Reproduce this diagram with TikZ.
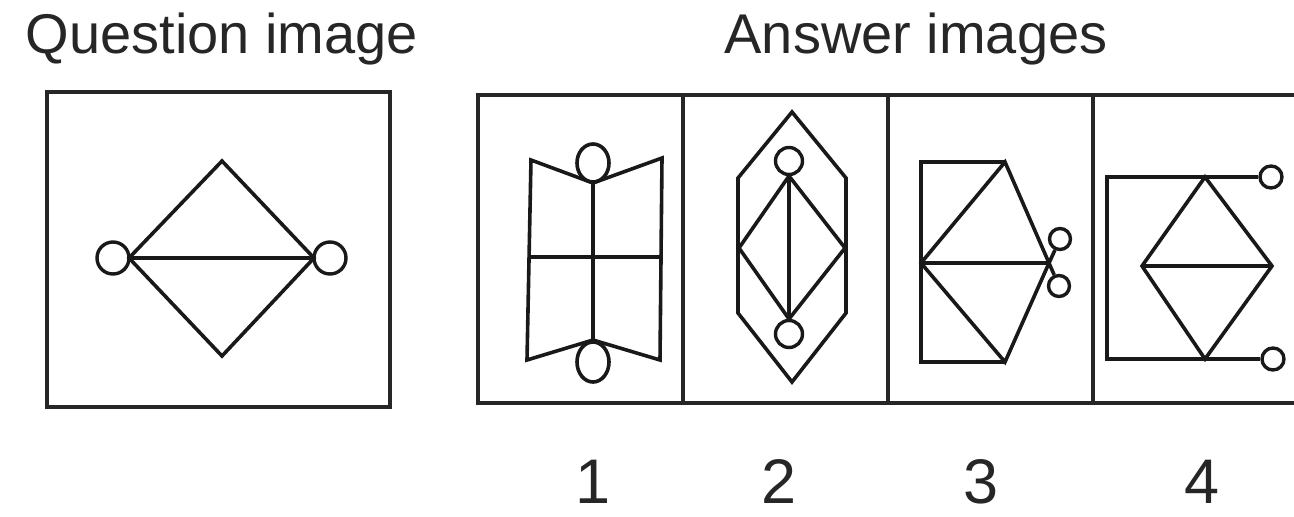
\documentclass[tikz,border=0pt]{standalone}
\usepackage{fontspec}
\setmainfont{Liberation Sans}
\begin{document}
\begin{tikzpicture}[x=1pt,y=-1pt,
  fig/.style={line width=3.6pt, line join=miter, draw=black!90},
  frame/.style={line width=4.4pt, draw=black!85},
  ring/.style={draw=black!90, circle, line width=3.4pt, inner sep=0pt},
  lbl/.style={font=\fontsize{56}{60}\selectfont, text=black!85, inner sep=0pt, anchor=base},
  num/.style={font=\fontsize{63}{66}\selectfont, text=black!85, inner sep=0pt, anchor=base}]
\useasboundingbox (0,0) rectangle (1294,517);
\clip (0,0) rectangle (1294,517);

% titles
\node[lbl] (qtitle) at (222,53) {Question image};
\node[lbl] (atitle) at (916,53) {Answer images};

% numbers
\node[num] (n1) at (593,503) {1};
\node[num] (n2) at (779,503) {2};
\node[num] (n3) at (981,503) {3};
\node[num] (n4) at (1202,503) {4};

% question frame
\draw[frame] (47,92) rectangle (390,407);
% answer frame
\draw[frame] (1300,95) -- (478,95) -- (478,403) -- (1300,403);
\draw[frame] (683,95) -- (683,403);
\draw[frame] (888,95) -- (888,403);
\draw[frame] (1093,95) -- (1093,403);

% question figure
\coordinate (qL) at (129,258);
\coordinate (qR) at (314,258);
\coordinate (qT) at (222,161);
\coordinate (qB) at (222,356);
\draw[fig] (qL) -- (qT) -- (qR) -- (qB) -- cycle;
\draw[fig] (qL) -- (qR);
\node[ring, minimum size=32pt] (qc1) at (113,258) {};
\node[ring, minimum size=32pt] (qc2) at (330,258) {};

% answer 1
\coordinate (a1t) at (593,183);
\coordinate (a1b) at (593,340);
\draw[fig] (531,160) -- (a1t) -- (662,158) -- (660,360) -- (a1b) -- (527,360) -- cycle;
\draw[fig] (a1t) -- (a1b);
\draw[fig] (529,257) -- (661,257);
\draw[fig] (593,163) ellipse[x radius=16, y radius=19];
\draw[fig] (593,362) ellipse[x radius=16, y radius=20];

% answer 2
\draw[fig] (792,112) -- (846,178) -- (846,313) -- (792,382) -- (738,313) -- (738,178) -- cycle;
\coordinate (a2t) at (789,176);
\coordinate (a2b) at (789,319);
\draw[fig] (a2t) -- (845,248) -- (a2b) -- (739,248) -- cycle;
\draw[fig] (a2t) -- (a2b);
\node[ring, minimum size=27pt] (a2c1) at (789,161) {};
\node[ring, minimum size=27pt] (a2c2) at (789,334) {};

% answer 3
\coordinate (a3l) at (921,263);
\coordinate (a3r) at (1049,263);
\coordinate (a3t) at (1005,162);
\coordinate (a3b) at (1005,362);
\draw[fig] (a3t) -- (921,162) -- (921,362) -- (a3b);
\draw[fig] (a3l) -- (a3t) -- (a3r) -- (a3b) -- cycle;
\draw[fig] (a3l) -- (a3r);
\node[ring, minimum size=21pt] (s1) at (1060,239) {};
\node[ring, minimum size=21pt] (s2) at (1059,286) {};
\draw[fig] (a3r) -- (s1);
\draw[fig] (a3r) -- (s2);

% answer 4
\node[ring, minimum size=22pt] (c1) at (1271,177) {};
\node[ring, minimum size=22pt] (c2) at (1273,359) {};
\draw[fig] (c1.west) -- (1107,177) -- (1107,359) -- (c2.west);
\coordinate (a4l) at (1142,266);
\coordinate (a4r) at (1272,266);
\draw[fig] (1205,177) -- (a4r) -- (1205,359) -- (a4l) -- cycle;
\draw[fig] (a4l) -- (a4r);
\end{tikzpicture}
\end{document}
